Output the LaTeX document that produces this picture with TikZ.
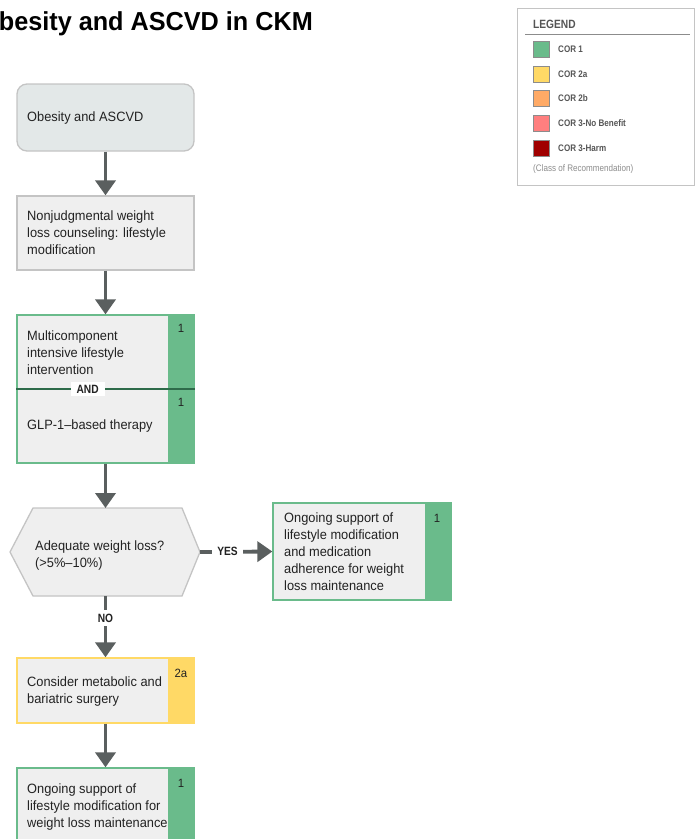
\documentclass[tikz,border=0pt]{standalone}
\usepackage{fontspec}
\setmainfont{Liberation Sans}
\newfontfamily\titlefont[FakeStretch=0.97]{Liberation Sans}
\newfontfamily\narrowfont[FakeStretch=0.95]{Liberation Sans}
\newfontfamily\tagfont[FakeStretch=0.85]{Liberation Sans}
\usetikzlibrary{arrows.meta}

\definecolor{corgreen}{HTML}{6ABB8B}
\definecolor{coryellow}{HTML}{FFD966}
\definecolor{cororange}{HTML}{FFAA66}
\definecolor{corpink}{HTML}{FF7F7F}
\definecolor{corred}{HTML}{A00000}
\definecolor{darkgreen}{HTML}{2E6B4A}
\definecolor{boxfill}{HTML}{EFEFEF}
\definecolor{startfill}{HTML}{E3E8E8}
\definecolor{boxline}{HTML}{C4C4C4}
\definecolor{arrowgray}{HTML}{5A5F5F}
\definecolor{textgray}{HTML}{222222}
\definecolor{legendgray}{HTML}{555555}

\tikzset{
  box/.style={draw=boxline, fill=boxfill, line width=1.3pt, minimum width=177pt, inner sep=0pt},
  startbox/.style={box, fill=startfill, rounded corners=10pt},
  greenbox/.style={box, draw=corgreen},
  yellowbox/.style={box, draw=coryellow},
  label/.style={anchor=west, align=left, inner sep=0pt, text=textgray,
    font=\narrowfont\fontsize{13.5}{17}\selectfont},
  cornum/.style={inner sep=0pt, text=textgray, font=\narrowfont\fontsize{12}{13}\selectfont},
  flow/.style={draw=arrowgray, line width=3.8pt, -{Triangle[length=15pt,width=20pt]}},
  flowline/.style={draw=arrowgray, line width=3.8pt},
  tag/.style={fill=white, inner sep=3pt, text=textgray, font=\tagfont\bfseries\fontsize{12}{13}\selectfont},
  swatch/.style={draw=black!45, line width=0.6pt, minimum width=16pt, minimum height=16pt, inner sep=0pt},
  legendtext/.style={anchor=west, inner sep=0pt, text=legendgray, font=\tagfont\bfseries\fontsize{9.5}{11}\selectfont},
}

\begin{document}
\begin{tikzpicture}[x=1pt, y=-1pt]
\useasboundingbox (0,0) rectangle (695,839);

% Title
\node[anchor=base east, inner sep=0pt, font=\titlefont\bfseries\fontsize{26}{30}\selectfont, text=black]
  (title) at (313,30) {Obesity and ASCVD in CKM};

% Start box
\node[startbox, minimum height=67pt] (start) at (105.5,117.5) {};
\node[label] (starttext) at (27,118) {Obesity and ASCVD};

% Counseling box
\node[box, minimum height=74pt] (counsel) at (105.5,233) {};
\node[label] (counseltext) at (27,233) {Nonjudgmental weight\\loss counseling: lifestyle\\modification};

% Lifestyle intervention AND GLP-1 box
\node[greenbox, minimum height=148pt] (combo) at (105.5,389) {};
\fill[corgreen] (168,315) rectangle (194,463);
\draw[corgreen, line width=1.3pt] (combo.south west) rectangle (combo.north east);
\node[label] (combotext) at (27,353) {Multicomponent\\intensive lifestyle\\intervention};
\node[label] (glptext) at (27,426) {GLP-1\textendash based therapy};
\node[cornum] (combonum1) at (181,328) {1};
\node[cornum] (combonum2) at (181,402) {1};
\draw[darkgreen, line width=1.6pt] (combo.west |- 0,389) -- (combo.east |- 0,389)
  node[tag, pos=0.4, inner xsep=6pt] (andtag) {AND};

% Decision hexagon
\coordinate (hexL) at (10,552);
\coordinate (hexR) at (200,552);
\coordinate (hexT) at (105.5,508);
\coordinate (hexB) at (105.5,596);
\filldraw[fill=boxfill, draw=boxline, line width=1.3pt]
  (hexL) -- (33,508) -- (182,508) -- (hexR) -- (182,596) -- (33,596) -- cycle;
\node[label] (hextext) at (35,555) {Adequate weight loss?\\(>5\%\textendash 10\%)};

% Ongoing support (yes branch)
\node[greenbox, minimum width=178pt, minimum height=97pt] (support) at (362,551.5) {};
\fill[corgreen] (425,503) rectangle (451,600);
\draw[corgreen, line width=1.3pt] (support.south west) rectangle (support.north east);
\node[label] (supporttext) at (284,552) {Ongoing support of\\lifestyle modification\\and medication\\adherence for weight\\loss maintenance};
\node[cornum] (supportnum) at (437,518) {1};

% Surgery box
\node[yellowbox, minimum height=65pt] (surgery) at (105.5,690.5) {};
\fill[coryellow] (168,658) rectangle (194,723);
\draw[coryellow, line width=1.3pt] (surgery.south west) rectangle (surgery.north east);
\node[label] (surgerytext) at (27,691.5) {Consider metabolic and\\bariatric surgery};
\node[cornum] (surgerynum) at (181,673) {2a};

% Maintenance box
\node[greenbox, minimum height=78pt] (maint) at (105.5,807) {};
\fill[corgreen] (168,768) rectangle (194,846);
\draw[corgreen, line width=1.3pt] (maint.south west) rectangle (maint.north east);
\node[label] (mainttext) at (27,807) {Ongoing support of\\lifestyle modification for\\weight loss maintenance};
\node[cornum] (maintnum) at (181,783) {1};

% Connectors
\draw[flow] (start.south) -- (counsel.north);
\draw[flow] (counsel.south) -- (combo.north);
\draw[flow] (combo.south) -- (hexT);
\draw[flow] (hexR) -- (support.west) node[tag, pos=0.38, inner xsep=5pt] (yestag) {YES};
\draw[flow] (hexB) -- (surgery.north);
\node[tag, inner ysep=4pt] (notag) at (105.5,618) {NO};
\draw[flow] (surgery.south) -- (maint.north);

% Legend
\node[draw=boxline, line width=1pt, minimum width=177pt, minimum height=177pt, inner sep=0pt] (legend) at (605.5,96.5) {};
\node[anchor=west, inner sep=0pt, text=legendgray, font=\tagfont\bfseries\fontsize{12}{13}\selectfont] (legendtitle) at (533,24) {LEGEND};
\draw[black!45, line width=0.8pt] (525,34) -- (690,34);
\node[swatch, fill=corgreen] (sw1) at (541,49) {};
\node[swatch, fill=coryellow] (sw2) at (541,74) {};
\node[swatch, fill=cororange] (sw3) at (541,98) {};
\node[swatch, fill=corpink] (sw4) at (541,123) {};
\node[swatch, fill=corred] (sw5) at (541,148) {};
\node[legendtext] (lt1) at (558,49) {COR 1};
\node[legendtext] (lt2) at (558,74) {COR 2a};
\node[legendtext] (lt3) at (558,98) {COR 2b};
\node[legendtext] (lt4) at (558,123) {COR 3-No Benefit};
\node[legendtext] (lt5) at (558,148) {COR 3-Harm};
\node[anchor=west, inner sep=0pt, text=black!45, font=\tagfont\fontsize{9.5}{11}\selectfont] (legendnote) at (533,169) {(Class of Recommendation)};
\end{tikzpicture}
\end{document}
